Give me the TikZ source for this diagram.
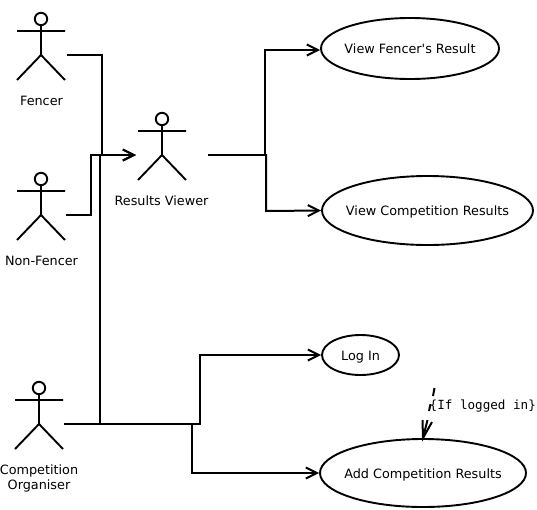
\documentclass[tikz,border=0pt]{standalone}
\usepackage{fontspec}
\setmainfont{DejaVu Sans}
\newfontfamily\casefont{DejaVu Sans}
\setmonofont{DejaVu Sans Mono}
\usetikzlibrary{shapes.geometric,arrows.meta}
\tikzset{
  every picture/.style={x=1pt,y=-1pt},
  stick/.style={line width=1.9pt,black,line cap=butt},
  usecase/.style={ellipse,draw=black,line width=1.9pt,inner sep=0pt,font=\casefont\fontsize{12.8pt}{15pt}\selectfont},
  lbl/.style={inner sep=0pt,align=center,font=\fontsize{12.8pt}{15.5pt}\selectfont},
  conn/.style={line width=2pt,black},
  arr/.style={conn,-{Straight Barb[length=11pt,width=11pt,line width=2pt]}},
  guard/.style={inner sep=0pt,font=\ttfamily\fontsize{12.6pt}{15pt}\selectfont,anchor=west}
}
% #1 centre x, #2 head centre y
\newcommand{\stickman}[2]{%
  \draw[stick] (#1,#2) circle[radius=6.2];
  \draw[stick] (#1,#2+6.2) -- (#1,#2+36) (#1-24,#2+12) -- (#1+24,#2+12)
    (#1-24,#2+61) -- (#1,#2+36) -- (#1+24,#2+61);
}
\newcommand{\ctext}[1]{\raisebox{-5pt}[0pt][0pt]{\makebox[0pt][c]{#1}}}
\begin{document}
\begin{tikzpicture}
\useasboundingbox (0,0) rectangle (537,509);
\stickman{41}{19}
\stickman{41}{179}
\stickman{162}{119}
\stickman{39}{388}
\node[lbl] (fencer) at (41.5,101) {Fencer};
\node[lbl] (nonfencer) at (41.5,261) {Non-Fencer};
\node[lbl] (viewer) at (161.5,200.5) {Results Viewer};
\node[lbl] (organiser) at (39,478.5) {Competition\\Organiser};
\node[usecase,minimum width=178pt,minimum height=61pt] (fr) at (410,48.5) {\ctext{View Fencer's Result}};
\node[usecase,minimum width=211pt,minimum height=69pt] (cr) at (427.5,210.5) {\ctext{View Competition Results}};
\node[usecase,minimum width=77pt,minimum height=40pt] (login) at (360.5,355) {\ctext{Log In}};
\node[usecase,minimum width=206pt,minimum height=68pt] (add) at (423,473) {\ctext{Add Competition Results}};
\node[guard] (cond) at (429.5,406) {\{If logged in\}};
\coordinate (fout) at (67,55);
\coordinate (nout) at (66,214.5);
\coordinate (vin) at (136,155);
\coordinate (vout) at (208,155);
\coordinate (oout) at (64,424);
\coordinate (dash) at (434.5,388);
\coordinate (tip) at (423,438);
\draw[arr] (fout) -- (102,55) -- (102,155) -- (vin);
\draw[arr] (nout) -- (90.5,214.5) -- (90.5,155) -- (vin);
\draw[conn] (oout) -- (100,424) -- (100,155);
\draw[arr] (oout) -- (200,424) -- (200,355) -- (login.west);
\draw[arr] (192,424) -- (192,473) -- (add.west);
\draw[arr] (vout) -- (265,155) -- (265,50) -- (320,50);
\draw[arr] (265,155) -- (266,155) -- (266,211) -- (cr.west);
\draw[conn] (dash) -- (433,396);
\draw[conn] (430.5,404) -- (429,411);
\draw[conn] (427.5,420) -- (tip);
\draw[conn] (422.5,420) -- (tip) -- (432,422);
\end{tikzpicture}
\end{document}
